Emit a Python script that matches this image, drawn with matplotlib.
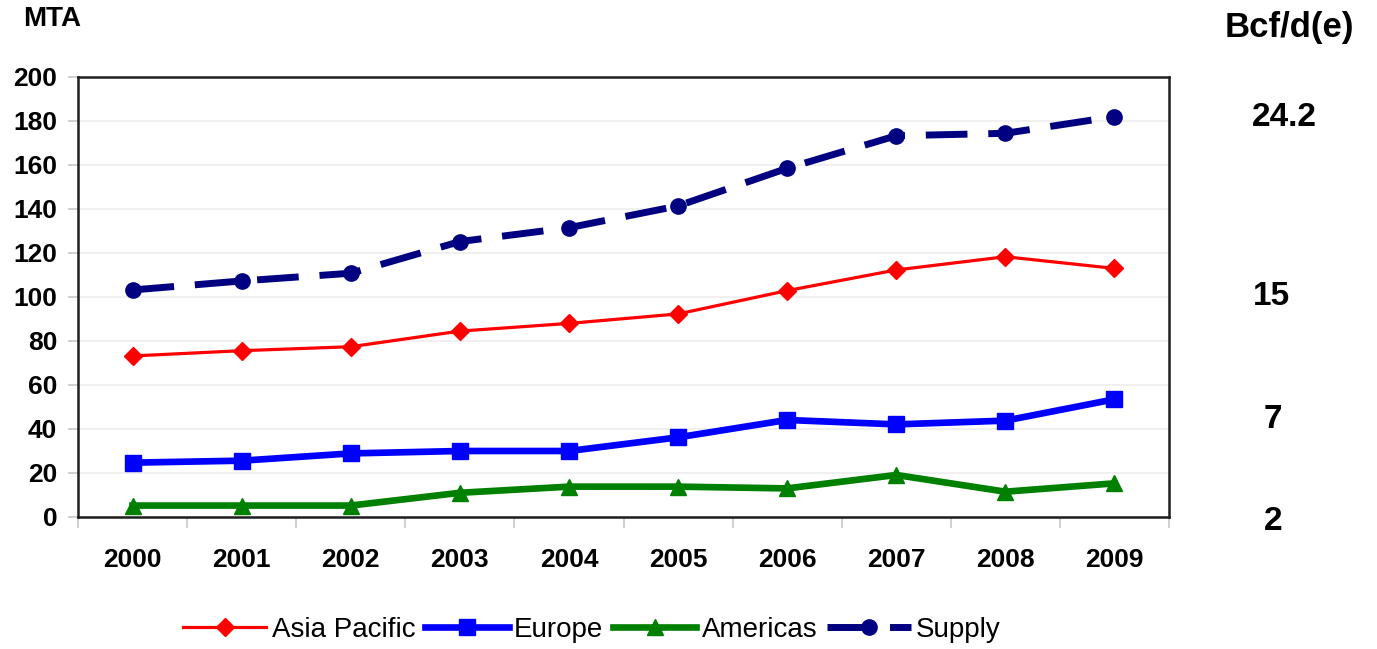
import numpy as np
import matplotlib
matplotlib.use("Agg")
import matplotlib.pyplot as plt
from matplotlib.ticker import FixedLocator

plt.rcParams["font.family"] = ["Liberation Sans", "DejaVu Sans"]

# LNG demand by region and total supply, million tonnes per annum
years = ["2000", "2001", "2002", "2003", "2004", "2005", "2006", "2007", "2008", "2009"]
asia_pacific = [73.2, 75.6, 77.4, 84.5, 88.0, 92.3, 102.9, 112.3, 118.3, 113.0]
europe = [24.7, 25.6, 28.9, 30.0, 30.0, 36.2, 44.1, 42.1, 43.8, 53.5]
americas = [5.2, 5.2, 5.2, 11.0, 13.8, 13.8, 13.0, 19.1, 11.5, 15.3]
supply = [103.2, 107.3, 110.8, 125.2, 131.5, 141.4, 158.5, 173.3, 174.4, 182.0]

y_ticks = [0, 20, 40, 60, 80, 100, 120, 140, 160, 180, 200]

# Equivalent gas volumes shown beside the chart
bcfd_values = ["24.2", "15", "7", "2"]

W, H = 1377, 649
fig = plt.figure(figsize=(W / 100, H / 100), dpi=100)
ax = fig.add_axes([78 / W, 1 - 517 / H, (1169 - 78) / W, (517 - 77) / H])

x = np.arange(len(years))
ax.plot(x, asia_pacific, color="#FF0000", lw=2.3, marker="D", ms=9,
        label="Asia Pacific", clip_on=False, zorder=4)
ax.plot(x, europe, color="#0000FF", lw=4.8, marker="s", ms=11,
        label="Europe", clip_on=False, zorder=4)
ax.plot(x, americas, color="#008000", lw=4.8, marker="^", ms=12,
        label="Americas", clip_on=False, zorder=4)
ax.plot(x, supply, color="#000080", lw=5, ls=(0, (6, 3)), marker="o", ms=11,
        label="Supply", clip_on=False, zorder=4)

ax.set_xlim(-0.5, len(years) - 0.5)
ax.set_ylim(0, 200)
ax.set_yticks(y_ticks)
ax.set_xticks(x, years)
ax.xaxis.set_minor_locator(FixedLocator(np.arange(-0.5, len(years), 1.0)))

for lab in ax.get_xticklabels() + ax.get_yticklabels():
    lab.set_fontweight("bold")

ax.tick_params(axis="x", which="major", length=0, pad=22, labelsize=19)
ax.tick_params(axis="x", which="minor", length=8, width=1.2, color="#C8C8C8",
               direction="out")
ax.tick_params(axis="y", length=7, width=1.2, color="#C8C8C8", pad=8,
               labelsize=19)

ax.grid(axis="y", color="#EDEDED", lw=1.2)
ax.set_axisbelow(True)
for side in ["left", "right", "top", "bottom"]:
    ax.spines[side].set_linewidth(1.8)
    ax.spines[side].set_color("#1E1E1E")

fig.text(52 / W, 1 - 19 / H, "MTA", ha="center", va="center",
         fontsize=20, fontweight="bold")
fig.text(1289 / W, 1 - 28 / H, "Bcf/d(e)", ha="center", va="center",
         fontsize=25, fontweight="bold")
for txt, px, py in zip(bcfd_values, [1284, 1271, 1273, 1273], [117, 296, 419, 522]):
    fig.text(px / W, 1 - py / H, txt, ha="center", va="center",
             fontsize=24, fontweight="bold")

fig.legend(loc="center", bbox_to_anchor=(592 / W, 1 - 630 / H), ncol=4,
           frameon=False, fontsize=20, handlelength=3.0, handletextpad=0.2,
           columnspacing=0.35)

fig.savefig("out.png", dpi=100)
